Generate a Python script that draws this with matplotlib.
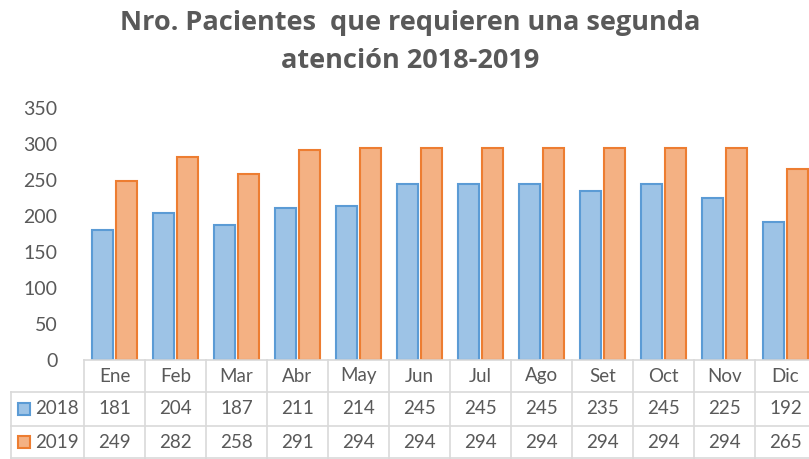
import numpy as np
import matplotlib
matplotlib.use('Agg')
import matplotlib.pyplot as plt
from matplotlib.patches import Rectangle
from matplotlib.lines import Line2D

months = ['Ene', 'Feb', 'Mar', 'Abr', 'May', 'Jun', 'Jul', 'Ago', 'Set', 'Oct', 'Nov', 'Dic']
series_names = ['2018', '2019']
pacientes_2018 = [181, 204, 187, 211, 214, 245, 245, 245, 235, 245, 225, 192]
pacientes_2019 = [249, 282, 258, 291, 294, 294, 294, 294, 294, 294, 294, 265]

title = 'Nro. Pacientes  que requieren una segunda\natención 2018-2019'

W, H = 809, 459
TXT = '#595959'
GRID = '#d9d9d9'
fills = ['#9dc3e6', '#f4b183']
edges = ['#5b9bd5', '#ed7d31']

plt.rcParams['font.family'] = ['Lato', 'DejaVu Sans']

fig = plt.figure(figsize=(W / 100, H / 100), dpi=100)

# plot area in pixels: x 84..816 (cut off at right), y 108..360
px_left, px_right, px_top, px_bot = 84, 816, 108, 360
ax = fig.add_axes([px_left / W, 1 - px_bot / H,
                   (px_right - px_left) / W, (px_bot - px_top) / H])

x = np.arange(len(months))
bw = 0.33
off = 0.197
ax.bar(x - off, pacientes_2018, bw, color=fills[0], edgecolor=edges[0], linewidth=1.5, zorder=2)
ax.bar(x + off, pacientes_2019, bw, color=fills[1], edgecolor=edges[1], linewidth=1.5, zorder=2)

ax.set_xlim(-0.5, len(months) - 0.5)
ax.set_ylim(0, 350)
ax.set_yticks(range(0, 351, 50))
ax.tick_params(axis='y', length=0, pad=19, labelsize=14, labelcolor=TXT)
ax.set_xticks([])
for s in ['top', 'right', 'left']:
    ax.spines[s].set_visible(False)
ax.spines['bottom'].set_color(GRID)
ax.spines['bottom'].set_linewidth(1.2)

fig.text(0.507, 1 - 42 / H, title, ha='center', va='center', fontsize=19.5,
         fontweight='bold', color=TXT, family=['Open Sans', 'DejaVu Sans'],
         linespacing=1.55)

# data table below the plot
def fy(py):
    return 1 - py / H

def fx(px):
    return px / W

row_tops = [360, 392, 426, 458]
col_w = (px_right - px_left) / len(months)
label_left = 11

# horizontal lines
for r in row_tops[1:]:
    fig.add_artist(Line2D([fx(label_left), fx(px_right)], [fy(r), fy(r)], color=GRID, lw=1.2))
# vertical lines
for i in range(len(months) + 1):
    xx = px_left + i * col_w
    fig.add_artist(Line2D([fx(xx), fx(xx)], [fy(row_tops[0]), fy(row_tops[-1])], color=GRID, lw=1.2))
fig.add_artist(Line2D([fx(label_left), fx(label_left)], [fy(row_tops[1]), fy(row_tops[-1])], color=GRID, lw=1.2))

for i, m in enumerate(months):
    cx = px_left + (i + 0.5) * col_w
    fig.text(fx(cx), fy((row_tops[0] + row_tops[1]) / 2), m, ha='center', va='center',
             fontsize=13.5, color=TXT)
    for j, vals in enumerate([pacientes_2018, pacientes_2019]):
        fig.text(fx(cx), fy((row_tops[j + 1] + row_tops[j + 2]) / 2), str(vals[i]),
                 ha='center', va='center', fontsize=13.5, color=TXT)

for j, name in enumerate(series_names):
    cy = (row_tops[j + 1] + row_tops[j + 2]) / 2
    fig.add_artist(Rectangle((fx(18), fy(cy + 6)), 12 / W, 12 / H, facecolor=fills[j],
                             edgecolor=edges[j], lw=1.5, transform=fig.transFigure))
    fig.text(fx(35), fy(cy), name, ha='left', va='center', fontsize=13.5, color=TXT)

fig.savefig('out.png', dpi=100)
